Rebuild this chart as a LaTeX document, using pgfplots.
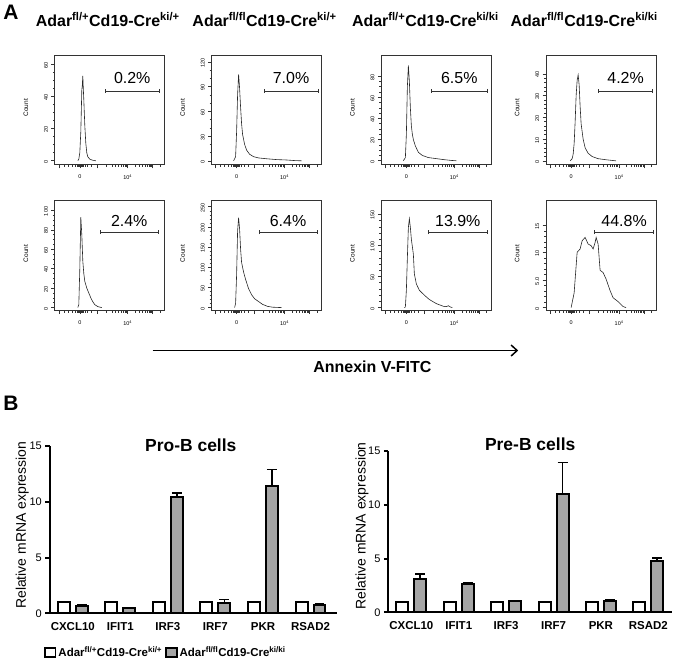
\documentclass[border=0pt]{standalone}
\usepackage{pgfplots}
\pgfplotsset{compat=1.18}
\usepackage{fontspec}
\setmainfont{Liberation Sans}
\usetikzlibrary{arrows.meta}
\definecolor{barg}{RGB}{165,165,165}

\pgfplotsset{
  hist/.style={
    scale only axis, width=110pt, height=110pt, anchor=south west,
    xmin=-25, xmax=85,
    axis line style={line width=0.7pt, black!80},
    tick style={black!80, line width=0.6pt},
    tick align=outside, xtick pos=left, ytick pos=left,
    major tick length=3.5pt, minor tick length=2pt,
    xtick={-21,0,18,48,73}, xticklabels={,0,,10\textsuperscript{4},},
    minor xtick={-16,-12,-8,-5,-3,-2,-1,1,2,3,5,8,12,27,32.3,36,39,41.3,43.4,45.1,46.6,55.5,59.9,63,65.5,67.5,69.1,70.6,71.9,80.5},
    tick label style={font=\fontsize{5.5}{6}\selectfont},
    yticklabel style={rotate=90, anchor=south, xshift=-1pt},
    xticklabel style={yshift=-3pt},
    ylabel={Count},
    ylabel style={font=\fontsize{6.5}{7}\selectfont, at={(axis description cs:-0.264,0.52)}, anchor=center},
    /pgf/number format/assume math mode=true,
  },
  curve/.style={black!85, line width=0.6pt, no marks},
  bars/.style={
    scale only axis, anchor=south west,
    ybar, bar width=12pt,
    ymin=0, ymax=15, ytick={0,5,10,15},
    xtick={0,...,5}, xticklabels={CXCL10,IFIT1,IRF3,IRF7,PKR,RSAD2},
    axis lines*=left,
    axis line style={line width=2pt},
    major tick length=4.5pt, tick align=outside,
    ytick style={line width=2pt, black}, xtick style={draw=none},
    yticklabel style={font=\fontsize{11}{12}\selectfont},
    xticklabel style={font=\bfseries\fontsize{11.5}{12}\selectfont, yshift=-1pt},
    ylabel={Relative mRNA expression},
    title style={font=\bfseries\fontsize{17.5}{18}\selectfont, anchor=center},
    enlarge y limits=false, clip=false,
    /pgf/number format/assume math mode=true,
  },
  sqlegend/.style={legend image code/.code={\draw[##1,/tikz/.cd,line width=1.5pt] (0pt,-4.5pt) rectangle (11pt,4.5pt);}},
  wbar/.style={draw=black, fill=white, line width=2pt, bar shift=-9pt, sqlegend},
  gbar/.style={draw=black, fill=barg, line width=2pt, bar shift=9pt, sqlegend,
    error bars/.cd, y dir=plus, y explicit,
    error bar style={line width=1.8pt, black},
    error mark options={rotate=90, mark size=5pt, line width=1.8pt, black}},
}

\newcommand{\gate}[5]{%
  \draw[line width=0.6pt, black!80, {Bar[width=4pt]}-{Bar[width=4pt]}]
    ({axis cs:#1,0} |- {axis description cs:0,#3}) --
    node[above=#5, inner sep=0pt, font=\fontsize{16}{16}\selectfont, black] {#4}
    ({axis cs:#2,0} |- {axis description cs:0,#3});
}

\begin{document}
\begin{tikzpicture}
\path (0pt,0pt) rectangle (674pt,661pt);

% Panel labels
\node[font=\bfseries\fontsize{21}{21}\selectfont] at (10pt,649pt) {A};
\node[font=\bfseries\fontsize{21}{21}\selectfont] at (10pt,257pt) {B};

% Column titles
\begin{scope}[every node/.style={font=\bfseries\fontsize{16}{16}\selectfont, anchor=base}]
\node at (107pt,634.3pt) {Adar\textsuperscript{fl/+}Cd19-Cre\textsuperscript{ki/+}};
\node at (264pt,634.3pt) {Adar\textsuperscript{fl/fl}Cd19-Cre\textsuperscript{ki/+}};
\node at (425pt,634.3pt) {Adar\textsuperscript{fl/+}Cd19-Cre\textsuperscript{ki/ki}};
\node at (584pt,634.3pt) {Adar\textsuperscript{fl/fl}Cd19-Cre\textsuperscript{ki/ki}};
\end{scope}

% ---------------- Row 1 ----------------
\begin{axis}[hist, at={(54pt,496pt)}, ymin=-2.5, ymax=66, ytick={0,20,40,60}, minor y tick num=3]
\addplot[curve] coordinates {(-2,0) (-1,1) (0,5) (1,18) (2,44) (2.5,47) (3,53) (3.5,45) (4,38) (5,22) (6,11) (7,5) (8,2.5) (10,1) (13,0.3) (16,0)};
\gate{25}{80}{0.673}{0.2\%}{7pt}
\end{axis}

\begin{axis}[hist, at={(211pt,496pt)}, ymin=-4.8, ymax=128.5, ytick={0,30,60,90,120}, minor y tick num=2]
\addplot[curve] coordinates {(-3,0) (-1,5) (0,35) (1,80) (2,105) (3,88) (4,65) (5,45) (6,32) (8,20) (10,13) (13,8) (17,5) (22,3.5) (30,2.5) (40,1.5) (50,1) (58,0.3) (65,0)};
\gate{27}{82}{0.673}{7.0\%}{7pt}
\end{axis}

\begin{axis}[hist, at={(381pt,496pt)}, ymin=-3.8, ymax=100, ytick={0,20,40,60,80}, minor y tick num=3]
\addplot[curve] coordinates {(-3,0) (-1,3) (0,25) (1,70) (2,90) (3,75) (4,50) (5,33) (6,25) (7,20) (9,14) (12,8) (16,5) (22,3) (30,2) (38,1) (45,0.3) (50,0)};
\gate{25}{81}{0.673}{6.5\%}{7pt}
\end{axis}

\begin{axis}[hist, at={(546pt,496pt)}, ymin=-1.8, ymax=48.7, ytick={0,10,20,30,40}, minor y tick num=4]
\addplot[curve] coordinates {(-1,0) (1,1) (2,3) (3,8) (4,18) (5,30) (6,37) (7,39.5) (8,35) (9,25) (10,17) (12,10) (14,6) (17,3.5) (21,2) (27,1) (35,0.5) (45,0)};
\gate{27}{82}{0.673}{4.2\%}{7pt}
\end{axis}

% ---------------- Row 2 ----------------
\begin{axis}[hist, at={(54pt,350pt)}, ymin=-3.1, ymax=110, ytick={0,20,40,60,80,100}, minor y tick num=3]
\addplot[curve] coordinates {(-2,0) (-1,3) (0,40) (1,93) (2,75) (3,48) (4,35) (5,27) (7,20) (9,15) (11,10) (13,6) (15,3) (18,1) (22,0)};
\gate{20}{79}{0.714}{2.4\%}{5.5pt}
\end{axis}

\begin{axis}[hist, at={(211pt,350pt)}, ymin=-7.4, ymax=265, ytick={0,50,100,150,200,250}, minor y tick num=4]
\addplot[curve] coordinates {(-2,0) (-1,10) (0,80) (1,190) (2,223) (3,195) (4,145) (5,112) (7,88) (9,70) (12,47) (15,32) (18,22) (22,15) (26,8) (31,3) (36,1) (45,0)};
\gate{22}{81}{0.714}{6.4\%}{5.5pt}
\end{axis}

\begin{axis}[hist, at={(381pt,350pt)}, ymin=-4.8, ymax=172, ytick={0,50,100,150}, minor y tick num=4]
\addplot[curve] coordinates {(-2,0) (-1,1) (0,28) (1,80) (2,129) (3,143) (4,129) (5,110) (7,86) (8,54) (10,38) (13,28) (18,20) (23,13) (30,6.4) (37,2.1) (40,1.5) (42,3) (44,1) (46,0)};
\gate{22}{81}{0.714}{13.9\%}{5.5pt}
\end{axis}

\begin{axis}[hist, at={(546pt,350pt)}, ymin=-0.54, ymax=19.5, ytick={0,5,10,15}, yticklabels={0,5.0,10,15}, minor y tick num=4]
\addplot[curve] coordinates {(0,0) (3,2.7) (6,10.1) (9,10.7) (11,12.2) (14,12.8) (17,11.6) (20,11.3) (22,10.7) (24,11.9) (25,12.8) (27,11.6) (29,6.8) (32,6.4) (35,5.2) (39,3.1) (42,1.8) (47,1.1) (52,0.2) (55,0)};
\gate{23}{83}{0.714}{44.8\%}{5.5pt}
\end{axis}

% Annexin arrow
\draw[line width=1.5pt, -{Straight Barb[length=6pt,width=11pt,line width=1.5pt]}] (152pt,310pt) -- (518pt,310pt);
\node[font=\bfseries\fontsize{16}{16}\selectfont] at (372pt,294pt) {Annexin V-FITC};

% ---------------- Panel B ----------------
\begin{axis}[bars, at={(49pt,46.7pt)}, width=288pt, height=167.6pt,
  xmin=-0.483, xmax=5.567,
  title={Pro-B cells}, title style={at={(rel axis cs:0.49,1)}, yshift=-4.8pt},
  ylabel style={font=\fontsize{14}{15}\selectfont, at={(axis description cs:-0.0955,0.527)}, anchor=center},
  legend style={at={(rel axis cs:-0.021,-0.234)}, anchor=west, draw=none, fill=none, inner sep=0pt,
    font=\bfseries\fontsize{11.5}{12}\selectfont, legend columns=2,
    /tikz/every even column/.append style={column sep=1pt}},
]
\addplot[wbar] coordinates {(0,1) (1,1) (2,1) (3,1) (4,1) (5,1)};
\addlegendentry{Adar\textsuperscript{fl/+}Cd19-Cre\textsuperscript{ki/+}}
\addplot[gbar] coordinates {(0,0.68) +- (0,0.07) (1,0.45) +- (0,0.05) (2,10.4) +- (0,0.4) (3,0.93) +- (0,0.33) (4,11.45) +- (0,1.45) (5,0.77) +- (0,0.12)};
\addlegendentry{Adar\textsuperscript{fl/fl}Cd19-Cre\textsuperscript{ki/ki}}
\end{axis}

\begin{axis}[bars, at={(388pt,47.7pt)}, width=284pt, height=162pt,
  xmin=-0.484, xmax=5.5,
  title={Pre-B cells}, title style={at={(rel axis cs:0.5,1)}, yshift=0.5pt},
  ylabel style={font=\fontsize{14}{15}\selectfont, at={(axis description cs:-0.0926,0.536)}, anchor=center},
]
\addplot[wbar] coordinates {(0,1) (1,1) (2,1) (3,1) (4,1) (5,1)};
\addplot[gbar] coordinates {(0,3.08) +- (0,0.47) (1,2.65) +- (0,0.12) (2,1.05) +- (0,0.03) (3,10.95) +- (0,2.95) (4,1.1) +- (0,0.05) (5,4.78) +- (0,0.25)};
\end{axis}

\end{tikzpicture}
\end{document}
